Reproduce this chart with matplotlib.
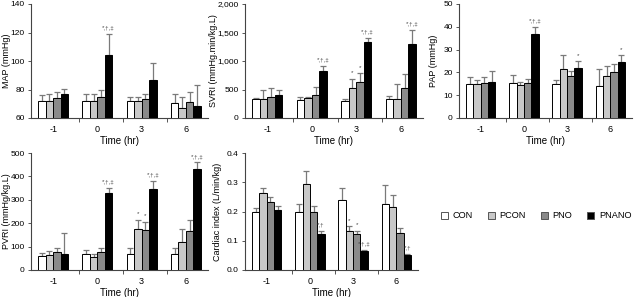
import matplotlib
matplotlib.use("Agg")
import matplotlib.pyplot as plt
from matplotlib.patches import Patch
import numpy as np

plt.rcParams['font.family'] = ['Liberation Sans', 'DejaVu Sans']

groups = ["-1", "0", "3", "6"]
series = ["CON", "PCON", "PNO", "PNANO"]
colors = ["white", "#c8c8c8", "#8a8a8a", "black"]

map_val = [[72, 72, 74, 77], [72, 72, 75, 104], [72, 72, 73.5, 86.5], [70.5, 67, 71.5, 68.5]]
map_top = [[76, 77, 78, 80.5], [77, 77, 80, 119], [75, 75, 77, 98.5], [76.5, 74.5, 78, 83]]
map_ann = {(1, 3): "*,†,‡"}

svri_val = [[330, 330, 360, 400], [320, 345, 410, 830], [295, 530, 640, 1340], [330, 325, 530, 1290]]
svri_top = [[350, 500, 520, 500], [360, 370, 550, 920], [340, 690, 790, 1410], [380, 590, 775, 1550]]
svri_ann = {(1, 3): "*,†,‡", (2, 1): "*", (2, 2): "*", (2, 3): "*,†,‡", (3, 3): "*,†,‡"}

pap_val = [[15, 15, 15.5, 16], [15.5, 14.5, 15.2, 37], [15, 21.5, 18.5, 22], [14, 18.5, 20, 24.5]]
pap_top = [[18, 16.5, 18, 20.5], [18.8, 16, 17, 40], [16.5, 27.5, 20.5, 25], [21.5, 23, 23.5, 27.5]]
pap_ann = {(1, 3): "*,†,‡", (2, 3): "*", (3, 3): "*"}

pvri_val = [[60, 65, 75, 70], [68, 55, 75, 330], [68, 175, 170, 345], [70, 120, 165, 430]]
pvri_top = [[73, 80, 95, 160], [85, 68, 95, 350], [95, 215, 205, 380], [95, 175, 215, 460]]
pvri_ann = {(1, 3): "*,†,‡", (2, 1): "*", (2, 2): "*", (2, 3): "*,†,‡", (3, 3): "*,†,‡"}

ci_val = [[0.200, 0.262, 0.232, 0.205], [0.200, 0.295, 0.200, 0.123], [0.240, 0.135, 0.122, 0.066], [0.225, 0.215, 0.128, 0.050]]
ci_top = [[0.213, 0.280, 0.248, 0.218], [0.224, 0.340, 0.218, 0.134], [0.282, 0.150, 0.135, 0.070], [0.290, 0.255, 0.143, 0.055]]
ci_ann = {(1, 3): "*,†", (2, 1): "*", (2, 2): "*", (2, 3): "*,†,‡", (3, 3): "*,†"}

W, H = 634, 297
fig = plt.figure(figsize=(W / 100, H / 100), dpi=100)

def ax_at(l, r, t, b):
    return fig.add_axes([l / W, 1 - b / H, (r - l) / W, (b - t) / H])

# (axes, values, tops, annotations, ylabel, ylim, yticks, yticklabels, axis-left pixel, ylabel x-pixel)
panels = [
    (ax_at(31, 208, 4, 118), map_val, map_top, map_ann, "MAP (mmHg)", (60, 140), [60, 80, 100, 120, 140], ["60", "80", "100", "120", "140"], 31, 7),
    (ax_at(245, 423, 4, 118), svri_val, svri_top, svri_ann, "SVRI (mmHg.min/kg.L)", (0, 2000), [0, 500, 1000, 1500, 2000], ["0", "500", "1,000", "1,500", "2,000"], 245, 214),
    (ax_at(459, 632, 4, 118), pap_val, pap_top, pap_ann, "PAP (mmHg)", (0, 50), [0, 10, 20, 30, 40, 50], ["0", "10", "20", "30", "40", "50"], 459, 433),
    (ax_at(31, 208, 153, 270), pvri_val, pvri_top, pvri_ann, "PVRI (mmHg/kg.L)", (0, 500), [0, 100, 200, 300, 400, 500], ["0", "100", "200", "300", "400", "500"], 31, 7),
    (ax_at(245, 418, 153, 270), ci_val, ci_top, ci_ann, "Cardiac index (L/min/kg)", (0, 0.4), [0, 0.1, 0.2, 0.3, 0.4], ["0.0", "0.1", "0.2", "0.3", "0.4"], 245, 218),
]

bw = 0.17
offs = (np.arange(4) - 1.5) * bw
x = np.arange(len(groups))
for ax, vals, tops, ann, ylab, ylim, yt, ytl, axl, labx in panels:
    vals = np.array(vals)
    tops = np.array(tops)
    span = ylim[1] - ylim[0]
    for j in range(4):
        xs = x + offs[j]
        v = vals[:, j]
        ax.bar(xs, v - ylim[0], bottom=ylim[0], width=bw, color=colors[j], edgecolor="black", linewidth=0.7, zorder=3)
        err = tops[:, j] - v
        ax.errorbar(xs, v, yerr=[np.zeros_like(err), err], fmt="none", ecolor="#7a7a7a", elinewidth=0.9, capsize=2, capthick=0.9, zorder=2)
    for (gi, sj), txt in ann.items():
        ax.text(x[gi] + offs[sj], tops[gi, sj] + span * 0.03, txt, ha="center", va="bottom", fontsize=4.5, color="#444444")
    ax.set_ylim(*ylim)
    ax.set_xlim(-0.5, 3.5)
    ax.set_yticks(yt)
    ax.set_yticklabels(ytl)
    ax.set_xticks(x)
    ax.set_xticklabels(groups)
    ax.set_xticks([0.58, 1.58, 2.58], minor=True)
    ax.tick_params(axis="x", which="major", length=0, labelsize=6.5, pad=5)
    ax.tick_params(axis="x", which="minor", length=3, direction="out", width=0.7, color="#555555")
    ax.tick_params(axis="y", length=2.5, width=0.7, labelsize=6, pad=2, color="#555555")
    ax.spines["top"].set_visible(False)
    ax.spines["right"].set_visible(False)
    for s in ("left", "bottom"):
        ax.spines[s].set_linewidth(0.8)
        ax.spines[s].set_color("#444444")
    ax.set_ylabel(ylab, fontsize=6.5, va="center", ha="center")
    bbox = ax.get_position()
    ax.yaxis.set_label_coords((labx - axl) / (bbox.width * W), 0.5)
    ax.set_xlabel("Time (hr)", fontsize=7, labelpad=1.5)

handles = [Patch(facecolor=c, edgecolor="#555555", linewidth=0.7) for c in colors]
fig.legend(handles, series, loc="center", bbox_to_anchor=(536 / W, 1 - 216 / H), ncol=4, frameon=False,
           fontsize=6.6, handlelength=0.8, handleheight=0.8, handletextpad=0.5, columnspacing=1.6)

fig.savefig("out.png", dpi=100)
